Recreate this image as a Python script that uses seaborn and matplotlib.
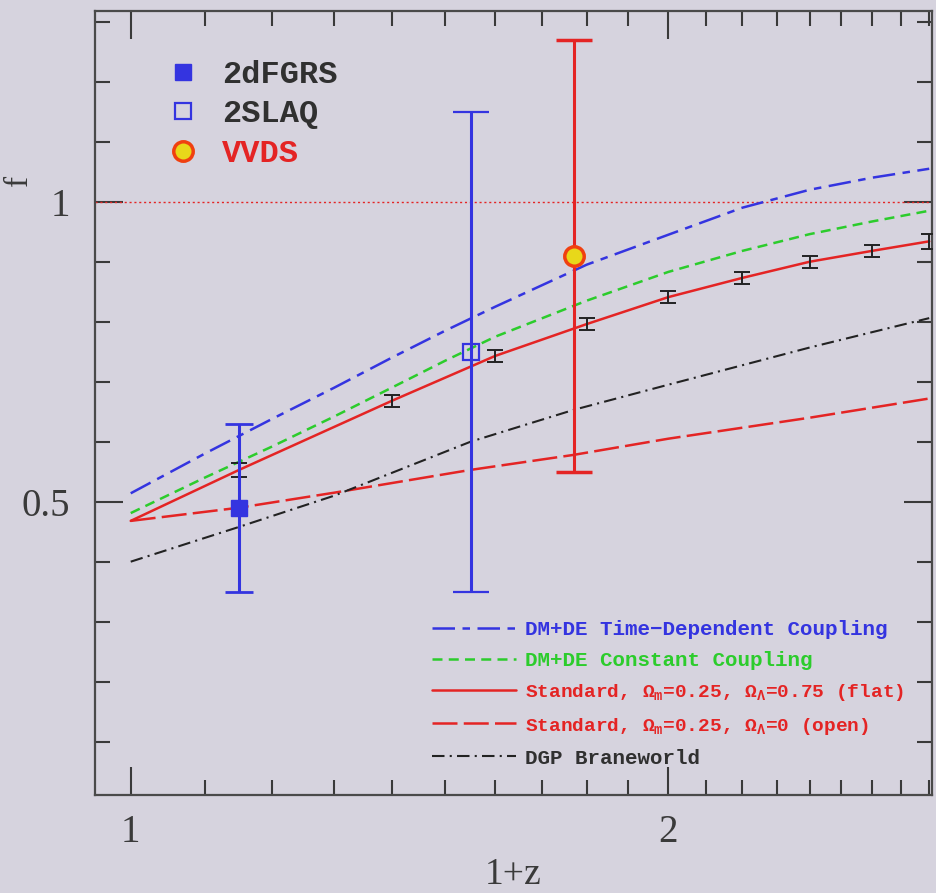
import matplotlib
matplotlib.use("Agg")
import matplotlib.pyplot as plt
import seaborn as sns
import pandas as pd
from matplotlib.lines import Line2D
from matplotlib.ticker import FixedLocator, FixedFormatter, NullFormatter

# ---- model curves: growth rate f versus 1+z ----
x_model = [1.0, 1.1, 1.2, 1.3, 1.4, 1.5, 1.6, 1.8, 2.0, 2.2, 2.4, 2.6, 2.8]
f_time_dep = [0.514, 0.580, 0.638, 0.690, 0.740, 0.785, 0.825, 0.895, 0.945, 0.990, 1.020, 1.040, 1.055]
f_const = [0.481, 0.540, 0.592, 0.642, 0.690, 0.735, 0.775, 0.835, 0.883, 0.918, 0.946, 0.967, 0.985]

x_open = [1.0, 1.15, 1.3, 1.55, 1.77, 2.0, 2.4, 2.8]
f_open = [0.468, 0.490, 0.515, 0.553, 0.578, 0.605, 0.640, 0.672]
f_dgp = [0.400, 0.458, 0.510, 0.600, 0.653, 0.695, 0.757, 0.806]

# simulated forecast points on the flat LCDM curve
x_sim = [1.15, 1.4, 1.6, 1.8, 2.0, 2.2, 2.4, 2.6, 2.8]
f_sim = [0.553, 0.668, 0.743, 0.796, 0.841, 0.873, 0.900, 0.918, 0.934]
err_sim = [0.012, 0.010, 0.010, 0.010, 0.010, 0.010, 0.010, 0.010, 0.012]
f_flat_z0 = 0.468

# ---- survey measurements ----
surveys = ["2dFGRS", "2SLAQ", "VVDS"]
x_survey = [1.15, 1.55, 1.77]
f_survey = [0.49, 0.75, 0.91]
err_survey = [0.14, 0.40, 0.36]

line_labels = [
    "DM+DE Time\u2212Dependent Coupling",
    "DM+DE Constant Coupling",
    r"Standard, $\Omega_m$=0.25, $\Omega_\Lambda$=0.75 (flat)",
    r"Standard, $\Omega_m$=0.25, $\Omega_\Lambda$=0 (open)",
    "DGP Braneworld",
]

BG = "#d6d3de"
BLUE = "#3434e0"
GREEN = "#2ccc2c"
RED = "#e42424"
DARK = "#222222"
INK = "#3a3a3a"

sns.set_theme(style="ticks")
plt.rcParams["font.family"] = ["Liberation Serif", "DejaVu Serif"]
plt.rcParams["mathtext.fontset"] = "custom"
plt.rcParams["mathtext.rm"] = "Liberation Mono:bold"
plt.rcParams["mathtext.it"] = "Liberation Mono:bold"

fig = plt.figure(figsize=(9.36, 8.93), dpi=100, facecolor=BG)
ax = fig.add_axes([0.1015, 0.1097, 0.8942, 0.878], facecolor=BG)
ax.set_xscale("log")

lw = 1.8
ls_td = (0, (9, 3, 3, 3))
ls_cc = (0, (4, 2.5))
ls_open = (0, (10, 2.5))
ls_dgp = (0, (6, 2.5, 1, 2.5))

df_model = pd.DataFrame({"x": x_model, "td": f_time_dep, "cc": f_const})
df_open = pd.DataFrame({"x": x_open, "open": f_open, "dgp": f_dgp})
df_flat = pd.DataFrame({"x": [1.0] + x_sim, "flat": [f_flat_z0] + f_sim})

sns.lineplot(data=df_model, x="x", y="td", ax=ax, color=BLUE, lw=lw,
             linestyle=ls_td, sort=False)
sns.lineplot(data=df_model, x="x", y="cc", ax=ax, color=GREEN, lw=lw,
             linestyle=ls_cc, sort=False)
sns.lineplot(data=df_flat, x="x", y="flat", ax=ax, color=RED, lw=lw, sort=False)
sns.lineplot(data=df_open, x="x", y="open", ax=ax, color=RED, lw=lw,
             linestyle=ls_open, sort=False)
sns.lineplot(data=df_open, x="x", y="dgp", ax=ax, color=DARK, lw=1.5,
             linestyle=ls_dgp, sort=False)

# forecast error bars
ax.errorbar(x_sim, f_sim, yerr=err_sim, fmt="none", ecolor=DARK,
            elinewidth=1.4, capsize=6, capthick=1.4, zorder=4)

# reference line at f = 1
ax.axhline(1.0, color=RED, lw=1.0, ls=(0, (1.5, 2)), zorder=1)

# survey measurements
ax.errorbar(x_survey[0], f_survey[0], yerr=err_survey[0], fmt="s", ms=12,
            color=BLUE, mfc=BLUE, mec=BLUE, elinewidth=2.2, capsize=10,
            capthick=2, zorder=5)
ax.errorbar(x_survey[1], f_survey[1], yerr=err_survey[1], fmt="s", ms=12,
            color=BLUE, mfc="none", mec=BLUE, mew=1.6, elinewidth=2.2,
            capsize=13, capthick=2, zorder=5)
ax.errorbar(x_survey[2], f_survey[2], yerr=err_survey[2], fmt="o", ms=14,
            color=RED, mfc="#e8d81a", mec="#f04010", mew=2.5, elinewidth=2.2,
            capsize=13, capthick=2, zorder=5)

ax.set_xlim(0.955, 2.81)
ax.set_ylim(0.011, 1.318)

# ticks
ax.xaxis.set_major_locator(FixedLocator([1, 2]))
ax.xaxis.set_major_formatter(FixedFormatter(["1", "2"]))
ax.xaxis.set_minor_locator(FixedLocator([1.1, 1.2, 1.3, 1.4, 1.5, 1.6, 1.7, 1.8, 1.9,
                                         2.1, 2.2, 2.3, 2.4, 2.5, 2.6, 2.7, 2.8]))
ax.xaxis.set_minor_formatter(NullFormatter())
ax.yaxis.set_major_locator(FixedLocator([0.5, 1.0]))
ax.yaxis.set_major_formatter(FixedFormatter(["0.5", "1"]))
ax.yaxis.set_minor_locator(FixedLocator([0.1, 0.2, 0.3, 0.4, 0.6, 0.7, 0.8, 0.9, 1.1, 1.2, 1.3]))
ax.tick_params(which="both", direction="in", top=True, right=True,
               color=INK, width=1.5, labelsize=28, labelcolor=INK)
ax.tick_params(which="major", length=20)
ax.tick_params(which="minor", length=11)
ax.tick_params(axis="x", which="major", pad=14)
ax.tick_params(axis="y", which="major", pad=18)
for s in ax.spines.values():
    s.set_color("#4a4a4a")
    s.set_linewidth(1.6)

ax.set_xlabel("1+z", fontsize=27, color=INK, labelpad=4)
ax.set_ylabel("")
fig.text(0.004, 0.80, "f", rotation=90, fontsize=24, color=INK)

# legend for the survey measurements
mono = {"family": "Liberation Mono", "weight": "bold"}
survey_handles = [
    Line2D([], [], ls="none", marker="s", ms=12, mfc=BLUE, mec=BLUE),
    Line2D([], [], ls="none", marker="s", ms=11, mfc="none", mec=BLUE, mew=1.6),
    Line2D([], [], ls="none", marker="o", ms=14, mfc="#e8d81a", mec="#f04010", mew=2.5),
]
leg1 = ax.legend(survey_handles, surveys, loc="upper left",
                 bbox_to_anchor=(0.0705, 0.954), borderaxespad=0, frameon=False,
                 prop={**mono, "size": 23}, handlelength=1.0, handletextpad=0.72,
                 labelspacing=0.3)
for t, c in zip(leg1.get_texts(), ["#303030", "#303030", RED]):
    t.set_color(c)
ax.add_artist(leg1)

# legend for the model curves
line_handles = [
    Line2D([], [], color=BLUE, lw=lw, ls=ls_td),
    Line2D([], [], color=GREEN, lw=lw, ls=ls_cc),
    Line2D([], [], color=RED, lw=lw),
    Line2D([], [], color=RED, lw=lw, ls=ls_open),
    Line2D([], [], color=DARK, lw=1.5, ls=ls_dgp),
]
leg2 = ax.legend(line_handles, line_labels, loc="upper left",
                 bbox_to_anchor=(0.393, 0.2335), borderaxespad=0, frameon=False,
                 prop={**mono, "size": 15}, handlelength=4.0, handletextpad=0.45,
                 labelspacing=0.58)
for t, c in zip(leg2.get_texts(), [BLUE, GREEN, RED, RED, "#303030"]):
    t.set_color(c)
for t in leg2.get_texts()[2:4]:
    t.set_fontsize(14)

fig.savefig("out.png", dpi=100, facecolor=BG)
